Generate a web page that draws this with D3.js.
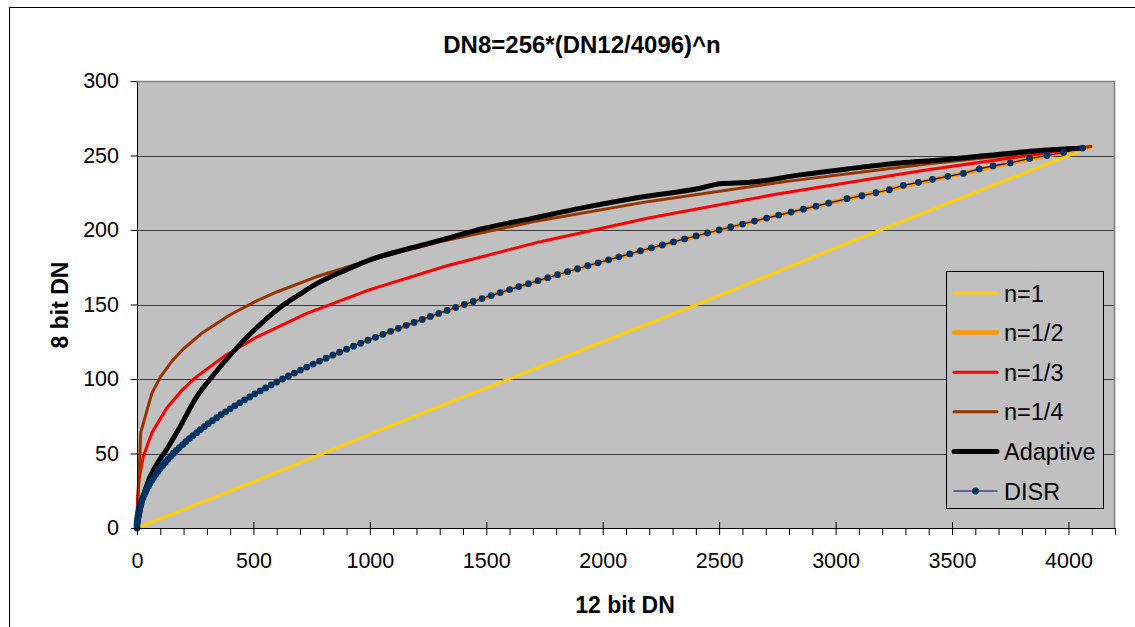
<!DOCTYPE html>
<html>
<head>
<meta charset="utf-8">
<script src="https://cdn.jsdelivr.net/npm/d3@7"></script>
<style>
  html, body { margin: 0; padding: 0; background: #fff; }
  svg { display: block; font-family: "Liberation Sans", Arial, sans-serif; }
</style>
</head>
<body>
<svg id="chart" width="1135" height="627"></svg>
<script>
// ---- data ----
const titleText = "DN8=256*(DN12/4096)^n";
const xTitle = "12 bit DN";
const yTitle = "8 bit DN";
const xMajorTicks = [0, 500, 1000, 1500, 2000, 2500, 3000, 3500, 4000];
const yTicks = [0, 50, 100, 150, 200, 250, 300];
const seriesNames = ["n=1", "n=1/2", "n=1/3", "n=1/4", "Adaptive", "DISR"];

// n=1
const n1X = [0, 500, 1000, 1500, 2000, 2500, 3000, 3500, 4064];
const n1Y = [0, 31, 63, 94, 125, 156, 188, 219, 254];
// n=1/2
const n2X = [0, 4, 16, 36, 64, 100, 144, 196, 256, 324, 400, 500, 625, 750, 900, 1024, 1200, 1400, 1600, 1800, 2025, 2250, 2500, 2750, 3000, 3250, 3500, 3750, 4000, 4095];
const n2Y = [0, 8, 16, 24, 32, 40, 48, 56, 64, 72, 80, 89.4, 100, 109.5, 120, 128, 138.6, 149.7, 160, 169.7, 180, 189.7, 200, 209.8, 219.1, 228, 236.6, 244.9, 253, 256];
// n=1/3
const n3X = [0, 2, 8, 27, 64, 128, 192, 256, 384, 512, 729, 1000, 1331, 1728, 2197, 2744, 3375, 4064];
const n3Y = [0, 20.2, 32, 48, 64, 80.6, 92.3, 101.6, 116.3, 128, 144, 160, 176, 192, 208, 224, 240, 255.3];
// n=1/4
const n4X = [0, 16, 64, 100, 150, 200, 280, 400, 514, 600, 770, 1000, 1300, 1700, 2200, 2800, 3400, 4096];
const n4Y = [0, 64, 90.5, 101.2, 112.0, 120.3, 130.9, 143.1, 152.4, 158.4, 168.6, 179.9, 192.1, 205.5, 219.2, 232.8, 244.4, 256];
// Adaptive
const adX = [0, 27, 55, 98, 120, 185, 256, 330, 400, 498, 614, 700, 772, 880, 1001, 1130, 1301, 1488, 1702, 1917, 2161, 2418, 2504, 2633, 2848, 3050, 3277, 3450, 3650, 3849, 4065];
const adY = [0, 21, 34, 46, 51, 68, 88, 103, 116, 132, 148, 157, 164, 172, 180, 186, 193, 201, 208, 215, 222, 228, 231, 232, 237, 241, 245, 247, 250, 253, 255];
// DISR
const disrX = [0, 0, 1, 2, 4, 6, 9, 12, 16, 20, 25, 30, 36, 42, 49, 56, 64, 72, 81, 90,
  100, 110, 121, 132, 144, 156, 169, 182, 196, 210, 225, 240, 256, 272, 289, 306, 324, 342, 361, 380,
  400, 420, 441, 462, 484, 506, 529, 552, 576, 600, 625, 650, 676, 702, 729, 756, 784, 812, 841, 870,
  900, 930, 961, 992, 1024, 1056, 1089, 1122, 1156, 1190, 1225, 1260, 1296, 1332, 1369, 1406, 1444, 1482, 1521, 1560,
  1600, 1640, 1681, 1722, 1764, 1806, 1849, 1892, 1936, 1980, 2025, 2070, 2116, 2162, 2209, 2256, 2304, 2352, 2401, 2450,
  2500, 2550, 2601, 2652, 2704, 2756, 2809, 2862, 2916, 2970,
  3049, 3113, 3173, 3231, 3291, 3356, 3416, 3482, 3549, 3617, 3676, 3750, 3833, 3908, 3979, 4060];
const disrY = [0, 2, 4, 6, 8, 10, 12, 14, 16, 18, 20, 22, 24, 26, 28, 30, 32, 34, 36, 38,
  40, 42, 44, 46, 48, 50, 52, 54, 56, 58, 60, 62, 64, 66, 68, 70, 72, 74, 76, 78,
  80, 82, 84, 86, 88, 90, 92, 94, 96, 98, 100, 102, 104, 106, 108, 110, 112, 114, 116, 118,
  120, 122, 124, 126, 128, 130, 132, 134, 136, 138, 140, 142, 144, 146, 148, 150, 152, 154, 156, 158,
  160, 162, 164, 166, 168, 170, 172, 174, 176, 178, 180, 182, 184, 186, 188, 190, 192, 194, 196, 198,
  200, 202, 204, 206, 208, 210, 212, 214, 216, 218,
  221, 223, 225, 227, 230, 232, 234, 236, 238, 241, 243, 245, 248, 250, 252, 255];

// ---- chart ----
const svg = d3.select("#chart");
const plot = { left: 137, right: 1115, top: 81, bottom: 528 };

const x = d3.scaleLinear().domain([0, 4200]).range([plot.left, plot.right]);
const y = d3.scaleLinear().domain([0, 300]).range([plot.bottom, plot.top]);

// outer chart border
svg.append("rect").attr("x", 9.5).attr("y", 7.5).attr("width", 1300).attr("height", 800)
  .attr("fill", "#fff").attr("stroke", "#000").attr("stroke-width", 1);

// plot area
svg.append("rect").attr("x", plot.left).attr("y", plot.top)
  .attr("width", plot.right - plot.left).attr("height", plot.bottom - plot.top)
  .attr("fill", "#C0C0C0");

// gridlines
svg.append("g").selectAll("line").data(yTicks.filter(d => d > 0 && d < 300)).join("line")
  .attr("x1", plot.left).attr("x2", plot.right)
  .attr("y1", d => Math.round(y(d)) + 0.5).attr("y2", d => Math.round(y(d)) + 0.5)
  .attr("stroke", "#3a3a3a").attr("stroke-width", 1);

// plot border (top and right gray)
svg.append("path")
  .attr("d", `M${plot.left},${plot.top + 0.5}H${plot.right - 0.5}V${plot.bottom}`)
  .attr("fill", "none").attr("stroke", "#808080").attr("stroke-width", 1.5);

// series
const mk = (xs, ys) => xs.map((v, i) => [v, ys[i]]);
const line = d3.line().x(d => x(d[0])).y(d => y(d[1]));
const smooth = d3.line().x(d => x(d[0])).y(d => y(d[1])).curve(d3.curveMonotoneX);
svg.append("defs").append("clipPath").attr("id", "clip")
  .append("rect").attr("x", plot.left - 5).attr("y", plot.top)
  .attr("width", plot.right - plot.left + 5).attr("height", plot.bottom - plot.top + 5);
const gS = svg.append("g").attr("clip-path", "url(#clip)");

const series = [
  { name: seriesNames[0], data: mk(n1X, n1Y), color: "#FFCC00", width: 3 },
  { name: seriesNames[1], data: mk(n2X, n2Y), color: "#FF9900", width: 4.5 },
  { name: seriesNames[2], data: mk(n3X, n3Y), color: "#FF0000", width: 3 },
  { name: seriesNames[3], data: mk(n4X, n4Y), color: "#993300", width: 3 },
  { name: seriesNames[4], data: mk(adX, adY), color: "#000000", width: 5, smooth: true },
  { name: seriesNames[5], data: mk(disrX, disrY), color: "#000080", width: 1.2, marker: "#003366" }
];

series.forEach(s => {
  gS.append("path").datum(s.data).attr("d", s.smooth ? smooth : line)
    .attr("fill", "none").attr("stroke", s.color).attr("stroke-width", s.width)
    .attr("stroke-linejoin", "round").attr("stroke-linecap", "round");
  if (s.marker) {
    gS.append("g").selectAll("circle").data(s.data).join("circle")
      .attr("cx", d => x(d[0])).attr("cy", d => y(d[1])).attr("r", 3.4)
      .attr("fill", s.marker);
  }
});

// y axis
const yAxis = svg.append("g").attr("transform", `translate(${plot.left},0)`)
  .call(d3.axisLeft(y).tickValues(yTicks).tickSize(6).tickPadding(12).tickSizeOuter(0).tickFormat(d3.format("d")));
yAxis.select(".domain").attr("stroke", "#000");
yAxis.selectAll("text").attr("font-size", "21.5px").attr("fill", "#000")
  .attr("font-family", "Liberation Sans, Arial, sans-serif");

// x axis minor ticks
const xMinor = d3.range(100, 4201, 100).filter(v => v % 500 !== 0);
const xMin = svg.append("g").attr("transform", `translate(0,${plot.bottom})`)
  .call(d3.axisBottom(x).tickValues(xMinor).tickSize(7).tickFormat(""));
xMin.select(".domain").remove();

// x axis major
const xAxis = svg.append("g").attr("transform", `translate(0,${plot.bottom})`)
  .call(d3.axisBottom(x).tickValues(xMajorTicks).tickSize(7).tickSizeOuter(0).tickFormat(d3.format("d")));
xAxis.select(".domain").attr("stroke", "#000");
xAxis.selectAll(".tick line").attr("y1", -6).attr("y2", 7);
xAxis.selectAll("text").attr("y", 25).attr("font-size", "21.5px").attr("fill", "#000")
  .attr("font-family", "Liberation Sans, Arial, sans-serif");

// titles
svg.append("text").attr("x", 582).attr("y", 53).attr("text-anchor", "middle")
  .attr("font-size", "24px").attr("font-weight", "bold").text(titleText);
svg.append("text").attr("x", 625).attr("y", 613).attr("text-anchor", "middle")
  .attr("font-size", "23px").attr("font-weight", "bold").text(xTitle);
svg.append("text").attr("transform", "translate(68,305) rotate(-90)").attr("text-anchor", "middle")
  .attr("font-size", "23px").attr("font-weight", "bold").text(yTitle);

// legend
const lg = svg.append("g");
lg.append("rect").attr("x", 946.5).attr("y", 271.5).attr("width", 157).attr("height", 237)
  .attr("fill", "#C0C0C0").attr("stroke", "#000").attr("stroke-width", 1);
const rowY = d3.scalePoint().domain(seriesNames).range([293, 491]);
series.forEach(s => {
  const cy = rowY(s.name);
  lg.append("line").attr("x1", 954).attr("x2", 997).attr("y1", cy).attr("y2", cy)
    .attr("stroke", s.color).attr("stroke-width", s.width).attr("stroke-linecap", "round");
  if (s.marker) {
    lg.append("circle").attr("cx", 975.5).attr("cy", cy).attr("r", 3.4).attr("fill", s.marker);
  }
  lg.append("text").attr("x", 1004).attr("y", cy + 8.5).attr("font-size", "23.5px")
    .attr("fill", "#000").text(s.name);
});
</script>
</body>
</html>
